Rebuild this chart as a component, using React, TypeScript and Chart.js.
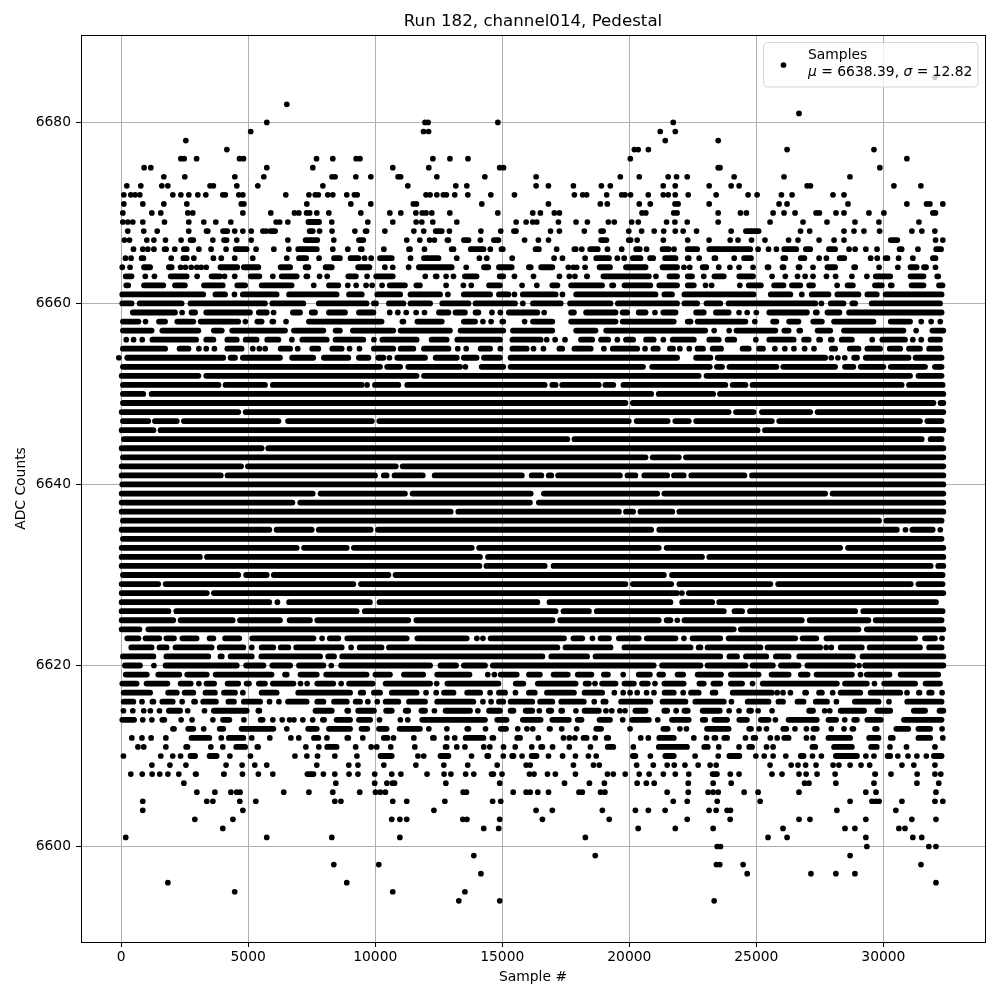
import React, { useEffect, useRef } from "react";
import { Chart, registerables } from "chart.js";

Chart.register(...registerables);

const chartTitle = "Run 182, channel014, Pedestal";
const xTitle = "Sample #";
const yTitle = "ADC Counts";
const seriesName = "Samples";
const meanValue = "6638.39";
const sigmaValue = "12.82";
const xTickValues = [0, 5000, 10000, 15000, 20000, 25000, 30000];
const yTickValues = [6600, 6620, 6640, 6660, 6680];

type Entry = number | [number, number];
type Row = [number, Entry[]];

// A number is a single sample; a pair is a stretch of samples that merge into one bar.
const upperRows: Row[] = [
  [6685, [32030]],
  [6682, [6520]],
  [6681, [26680]],
  [6680, [5733, 11960, 12080, 14825, 21730]],
  [6679, [5100, 11900, 12100, 21218, 21810]],
  [6678, [2545, 21415, 23500]],
  [6677, [4160, 20200, 20350, 20750, 26210, 29630]],
  [6676, [2350, 2480, 2970, 4658, 4815, 7690, 8330, 9250, 9400, 12270, 12940, 13650, 20040, 30925]],
  [6675, [905, 1168, 5733, 7544, 10690, 12110, 14900, 15050, 23500, 23570, 29860]],
  [6674, [1680, 2505, 4474, 5615, 8300, 8420, 9236, 9826, 10900, 11000, 12425, 14314, 16332, 19646, 20393, 21530, 21860, 22280, 24126, 26090, 28685]],
  [6673, [223, 774, 1600, 1837, 3500, 3630, 4553, 5380, 7940, 11283, 13172, 13605, 16332, 16817, 17800, 18900, 19253, 21336, 21808, 23144, 24009, 24323, 27000, 27130, 30415, 31476]],
  [6672, [105, 380, 550, 735, 2034, 2350, 2663, 3018, 3332, 4000, 4100, 4630, 4790, 6480, 7390, 7640, 7760, 8134, 8330, 8880, 9180, 9290, 12000, 12160, 12425, 12680, 12800, 13130, 13645, 14550, 15480, 17838, 18166, 18320, 19109, 19700, 19830, 20050, 20747, 21336, 21533, 21808, 22319, 23419, 24677, 25030, 25987, 26406, 28017, 28450]],
  [6671, [105, 853, 1680, 2585, 4730, 4830, 7308, 9040, 9826, 11500, 11620, 14196, 16817, 18860, 19135, 20393, 20825, 21800, 21920, 23144, 25895, 26209, 28607, 30925, 31700, 31830, 32340]],
  [6670, [66, 1207, 1560, 2624, 2820, 4790, 5890, 6822, 6993, 7300, 7420, 7700, 8174, 9433, 10575, 11007, 11600, 11850, 12000, 12228, 12936, 14825, 16200, 16500, 17050, 17250, 20500, 20650, 21750, 21880, 23498, 24375, 24610, 25660, 26090, 26524, 27350, 27480, 28135, 28450, 29432, 30021, 31950, 32050]],
  [6669, [66, 262, 459, 853, 1705, 2663, 3254, 3726, 4316, 6100, 6240, 6560, [7260, 7900], 8290, 9709, 10693, 11610, 11834, 12267, 13212, 15547, 15940, 16200, 16360, 17210, 17904, 18350, 19175, 19410, 20092, 20354, 21467, 21795, 22280, 23498, 25540, 26838, 27781, 28882, 29825, 31400]],
  [6668, [260, 890, [1310, 1540], 2660, [3250, 3520], [3900, 4290], 4470, 4790, [5010, 5250], 5580, 5710, [5770, 6170], [7310, 7650], 7810, 8300, 9200, [9510, 9770], 10380, 11520, 11910, [12270, 12730], 12920, 14160, 14940, [15350, 15650], 16900, 17250, 18230, [18780, 19080], [19870, 20092], 20485, 20980, [21245, 21467], [21700, 21926], 22120, 22646, 24009, [24480, 25200], [26640, 26840], 27100, 28450, 28843, 29235, [29786, 29917], 31122, 31515, 32026]],
  [6667, [130, 330, 1010, 1290, 1745, 2360, [2620, 2950], 3610, [3940, 4260], 4550, 5120, 6560, [7150, 7830], 8370, [9250, 9640], 11240, 11755, 12140, 12330, [12730, 12990], [13380, 13780], [14040, 14240], [14560, 14960], 15880, 16420, 16820, [18780, 19210], [19870, 20160], 20310, [21230, 21470], [22190, 22410], 23140, 23970, 24280, 24810, 25340, 26270, 26640, 27470, [27950, 28170], 28450, [30180, 30660], [31970, 32140], 32340]],
  [6666, [485, 853, 1050, 1290, [1600, 1880], 2110, [2360, 2690], 3060, 3540, 4130, [4400, 5050], 5310, 6010, 6600, [6860, 7810], 8330, 8920, [9320, 9580], 10340, [11220, 11480], 11940, [12900, 13190], [13650, 14370], [14430, 14630], [14860, 15130], [16200, 16550], 17140, [17730, 18000], 18130, [18350, 18870], [19040, 19240], 19700, [20160, 20520], 20680, [21200, 21660], 21760, [22190, 22780], [23040, 24870], 25070, 25480, 25790, [25990, 26680], [26840, 27230], [27750, 28210], 28650, 28890, 29310, 29750, [30530, 30830], 31360, [31970, 32380]]],
  [6665, [170, 390, [695, 985], 1970, [2340, 2690], 2860, [3520, 3740], 3940, 4470, 5180, 6520, [6890, 7390], [7680, 7910], [8270, 8720], [8920, 9450], 9580, 9840, [10080, 10760], 11390, [11810, 12600], 13210, 14100, 14390, 15390, 17040, 17370, 18260, [18590, 19310], 19530, 19800, [20030, 20550], [20710, 21050], [21300, 21930], [22190, 22450], 22750, [23240, 23500], 24130, [24410, 24900], [25950, 26250], [26640, 27000], 27470, 27760, [28170, 28570], 29500, 29760, [29980, 30270], 30600, 31160, [31840, 32160]]],
  [6664, [[-40, 130], 350, [790, 1250], [1770, 2100], 2340, 2530, 2760, 2980, 3150, 3350, [3800, 4680], [4720, 5510], [6170, 6760], [7150, 7480], [7940, 8400], [9220, 9880], [10300, 10460], 10690, [11220, 11410], [11610, 13120], 13580, [14170, 14560], [14760, 15480], [15940, 16230], [16420, 17080], 17600, 17800, 17930, 18260, [18720, 19350], [19760, 20750], [21200, 21990], 22150, 22380, [22780, 23140], [23410, 23630], 23960, 24320, 24870, [25330, 25590], [25920, 26180], [26550, 26810], 27230, [27690, 28210], [28740, 29000], 29830, 30570, [30960, 31420], [31490, 31790], 32050]],
  [6663, [[70, 520], [850, 1050], 1310, [1840, 2690], 2990, [3450, 4000], 4070, 4470, [4990, 5550], 5970, [6210, 7020], [7180, 7440], 7810, [8000, 8240], [8830, 9350], 9680, [9930, 10800], [11870, 12070], [12270, 12530], 12790, 13080, [13420, 14100], [14790, 15150], 15480, 16230, [17140, 17380], 17640, 17860, [18220, 18450], [18870, 20880], 21050, [21470, 21990], [22190, 22580], 22930, [23240, 23830], [24220, 24980], 25620, 26140, 26620, 26920, 27230, 27760, 28120, [28650, 28870], 29350, [29590, 30380], [30960, 31690], [32010, 32270]]],
  [6662, [[90, 390], [790, 1770], [2010, 2620], [3150, 4110], [4460, 4990], [5420, 6820], 7580, [8070, 8660], 8920, 9250, 9640, 9880, 10270, [10460, 11280], [11510, 11870], 12790, 13470, 13780, [14370, 15020], 15780, 16360, [16860, 17280], [17600, 19040], [19210, 19480], [19700, 20940], [21070, 21990], [22190, 22650], 23000, 23240, 24350, [24590, 25290], [25590, 26180], [26290, 26840], [26970, 27340], [28080, 28280], [28480, 28910], [29560, 30050], [30180, 30440], [31000, 31690], [32080, 32440]]],
  [6661, [[-65, 3340], [3600, 4200], 4460, [4680, 6230], [6500, 8590], [8860, 9580], [9970, 11090], [11280, 12660], 12860, [13380, 14630], [14760, 15350], 15480, [15700, 17210], 17370, [17800, 21140], [21270, 21790], [22060, 25000], [25460, 26450], [26680, 26900], [27070, 27950], [28080, 29130], [29260, 29850], [29980, 32400]]],
  [6660, [[-65, 520], [620, 2490], [2620, 5770], [5840, 7280], [7670, 9770], [9840, 10140], [10430, 11220], [11280, 12270], [12530, 13780], [13840, 15610], 15810, [16100, 17410], [17560, 19370], [19440, 21990], [22060, 22780], [22930, 23690], [23800, 27430], 27560, [27820, 28540], [28670, 29000], [29430, 32340]]],
  [6659, [[350, 2230], 2400, [2660, 3020], [3240, 5180], [5310, 5840], 6000, [6650, 7150], [7390, 7740], [8070, 8920], [9250, 10040], [10460, 10690], [10850, 10930], 11220, 11610, 11940, [12400, 12990], [13050, 13640], [13840, 14170], [14500, 14690], [14830, 15020], [15150, 16490], 16650, [17600, 17930], [18190, 19570], [19630, 20030], [20260, 20750], 21010, [21230, 21930], [22520, 23040], [23300, 24020], 24320, 24640, 25000, [25400, 27100], [27230, 27490], [27690, 28380], [28540, 32400]]],
  [6658, [[-40, 790], 960, [1380, 1840], [2100, 2950], [3020, 4720], 4890, [5250, 5640], [5840, 6100], 6490, [7280, 10360], [10960, 11220], [11550, 12730], [13380, 14040], 14240, 14560, [14890, 15150], 15880, [16100, 17080], [17600, 19570], [19630, 21860], [22190, 22520], [22580, 24680], 24940, [25550, 25900], [26180, 26770], [27130, 27690], [27950, 29720], [30180, 31160], 31490, 31880, 32240]],
  [6657, [[-40, 1310], [1510, 3150], [3540, 4070], [4260, 6560], [6690, 8070], [8330, 8720], [9010, 10820], [10890, 13050], [13250, 15150], [15310, 17080], [17800, 18780], [18980, 23100], 23340, 23930, [24110, 25860], [25990, 26380], [26580, 26840], [27300, 28020], [28340, 30900], 31290, [31820, 32470]]],
  [6656, [200, 490, 830, [1120, 3060], [3240, 3740], [4070, 4660], [4790, 5440], [5640, 6300], 6720, [7020, 8200], [8330, 9640], 9950, [10170, 11740], [12110, 12920], [13120, 15020], [15290, 16620], 16750, 17080, 17470, [17990, 18650], [18780, 19280], 19530, [19760, 20260], [20550, 21070], 21340, [21600, 22650], [23040, 23630], [23760, 24240], 24980, [25400, 26580], [26770, 27170], [27360, 27620], [27820, 28080], [28250, 28870], 29560, [29850, 30960], 31160, 31490, [31750, 32340]]],
  [6655, [[-40, 1840], [2190, 2760], 3060, 3350, 3670, [4070, 4850], 5180, 5440, 5670, [6170, 6760], 6950, [7410, 7870], [8200, 8790], 8990, 9380, [9840, 10820], [10890, 11610], [11810, 12990], 13250, 13580, [14040, 14630], [14830, 15020], [15290, 16070], 16230, 16620, [17140, 17470], [17730, 18590], 19000, [19240, 20420], 20620, [20840, 21230], [21490, 21830], 21990, 22360, [22580, 23010], [23170, 23720], [24350, 24810], [25000, 25370], 25730, 26120, 26480, 26900, 27270, [27860, 28210], [28570, 29130], [29260, 29980], [30140, 30770], [30900, 31550], [31690, 32340]]],
];

const denseRows: Row[] = [
  [6654, [-90, [130, 4130], [4200, 4590], [4680, 6360], [6620, 7670], [7870, 9050], [9250, 9840], [10010, 10430], 10560, [10760, 12070], [12270, 13320], [13380, 14100], [14170, 15020], [15220, 21990], [22520, 23300], [23370, 27820], 27950, 28210, 28480, [28740, 29070], [29200, 31100], [31160, 32400]]],
  [6653, [[-40, 10300], [10360, 11090], [11190, 13450], 13550, [14080, 15150], [15220, 20650], [20790, 23280], [23340, 23760], [23830, 25900], [25950, 28210], [28380, 28930], [29000, 30110], [30180, 31750], [31920, 32400]]],
  [6652, [[-90, 3150], [3240, 11740], [11810, 22840], [22930, 31160], [31270, 32400]]],
  [6651, [[-40, 3940], [4000, 5770], [5860, 9580], 9680, [9880, 11020], [11150, 16780], [16860, 17210], [17250, 18910], [18950, 19480], [19660, 23890], [23960, 24680], [24740, 30830], [30900, 32440]]],
  [6650, [[-40, 980], [1090, 20970], [21050, 23410], [23460, 32470]]],
  [6649, [[-40, 19960], [20030, 32080], [32140, 32470]]],
  [6648, [[-90, 4720], [4790, 24020], [24090, 25000], [25110, 27230], [27300, 32470]]],
  [6647, [[-40, 1180], [1220, 2300], [2360, 6300], [6460, 9980], [10050, 20090], [20180, 21620], [21700, 22450], [22520, 25720], [25790, 31550], [31620, 32400]]],
  [6646, [[-90, 1380], [1440, 25160], [25230, 32470]]],
  [6645, [[0, 17670], [17730, 31620], [31750, 32400]]],
  [6644, [[-90, 5640], [5680, 32470]]],
  [6643, [[-40, 20750], [20810, 22060], [22120, 32470]]],
  [6642, [[-90, 4830], [4880, 10920], [10970, 32470]]],
  [6641, [[-90, 4030], [4080, 10100], [10230, 10560], [10650, 11980], [12230, 15880], [16050, 16650], [16720, 17040], [17090, 19740], [19820, 20350], [20480, 21600], [21650, 22250], [22330, 24640], [24720, 32470]]],
  [6640, [[-65, 32470]]],
  [6639, [[-90, 7650], [7740, 11280], [11360, 16230], [16530, 21210], [21270, 27820], [27890, 32470]]],
  [6638, [[-90, 6850], [6940, 16200], [16330, 32470]]],
  [6637, [[-90, 13080], [13160, 19700], [19760, 20260], [20330, 21800], [21860, 32470]]],
  [6636, [[-40, 29940], [30010, 32400]]],
  [6635, [[-90, 5940], [6010, 7610], [7670, 9930], [10000, 20970], [21070, 30640], 30870, [31030, 32050], 32240]],
  [6634, [[-40, 32400]]],
  [6633, [[-90, 7020], [7090, 8990], [9050, 13910], [13980, 21270], [21360, 28410], [28500, 32470]]],
  [6632, [[-90, 3210], [3270, 14230], [14330, 22970], [23040, 32470]]],
  [6631, [[-90, 14210], [14270, 16780], [16910, 31970], [32050, 32470]]],
  [6630, [[-40, 4720], [4810, 5840], [5900, 10630], [10690, 21470], [21570, 32440]]],
  [6629, [[-90, 1570], [1640, 9250], [9330, 19960], [20030, 21760], [21860, 25660], [25750, 31190], [31270, 32440]]],
  [6628, [[-90, 3480], [3540, 21990], 22070, [22230, 32470]]],
  [6627, [[-90, 5940], 6150, [6500, 9900], [10060, 16490], [16750, 21730], [21970, 23370], [23430, 32180]]],
  [6626, [[-90, 1970], [2060, 9380], [9480, 17210], [17300, 18520], [18610, 23830], [24030, 24550], [24640, 29000], [29100, 32440]]],
  [6625, [[-90, 2160], [2230, 4500], [4570, 6360], [6520, 7540], [7610, 11410], [11510, 17090], [17170, 21270], [21360, 21730], 21890, [22060, 26900], [26990, 29520], [29590, 32400]]],
  [6624, [[-90, 830], [960, 24220], [24280, 29130], [29240, 32470]]],
];

const lowerRows: Row[] = [
  [6623, [[130, 790], [850, 1610], [1670, 2190], [2300, 3080], [3370, 3740], [3980, 4760], [5050, 7680], 7910, [8100, 8660], [8790, 11350], [11550, 13710], 14000, 14240, [14430, 17540], [17690, 18260], 18550, [18760, 19310], [19480, 20480], [20580, 21930], 22150, [22380, 23690], [23800, 26640], [26710, 27470], [27650, 31360], [31530, 32140], 32310]],
  [6622, [[290, 1310], [1400, 1900], [2030, 3670], [3770, 4920], 5140, [5420, 6100], [6170, 6690], [6780, 8790], 9050, [9280, 10360], [10430, 17280], [17380, 19370], [19700, 22520], [22620, 22910], [22970, 25270], [25330, 27620], 27750, 27950, [28210, 29260], [29350, 31550], [31690, 32400]]],
  [6621, [[-40, 1380], [1670, 3540], [3800, 4070], [4200, 5250], [5410, 7940], [8040, 8490], [8590, 16690], [16820, 18450], [18560, 23690], [23830, 24350], [24480, 25500], [25660, 26380], [26580, 28910], [29070, 32470]]],
  [6620, [[40, 850], 1290, [1640, 4660], [4810, 5710], [5840, 6760], [6890, 8070], 8270, [8550, 12270], [12460, 13290], [13380, 14430], [14520, 21070], [21180, 22910], [22970, 24680], [24740, 25760], [25860, 26770], [26900, 28930], 29040, [29170, 32470]]],
  [6619, [[70, 1120], [1350, 2400], [2490, 3480], [3610, 6030], [6340, 6630], [6950, 7810], [7960, 9770], [9900, 10690], [11020, 12000], [12330, 13820], 14430, 14690, [14830, 15680], [15940, 16590], [16910, 17690], [17860, 18620], [18890, 19270], 19760, [20260, 20920], [21070, 21440], [21790, 22230], [22580, 23720], [23890, 25200], [25490, 26380], [26640, 27130], [27260, 28870], [29000, 29200], [29240, 30350], [30570, 32270]]],
  [6618, [[-65, 720], [890, 1930], [2230, 2850], 3060, [3250, 3770], [4080, 4720], [4830, 5140], [5310, 5770], [5860, 6890], 7060, 7320, [7610, 8460], 8660, [8860, 10010], [10300, 12270], 12420, [12730, 14960], [15420, 15940], [16290, 18000], [18170, 18520], 18650, [18820, 19570], [19700, 20290], [20390, 20840], 21010, [21270, 22250], [22650, 23040], [23200, 23690], [23890, 24550], 24850, [25140, 28280], [28380, 29460], 29650, [29920, 31360], [31550, 32340]]],
  [6617, [[-10, 1250], [1740, 2300], [2390, 2950], [3210, 3800], [3940, 4590], 4790, [5420, 6230], [6860, 9120], [9320, 9640], [9840, 10300], [10540, 11740], 12000, 12400, [12600, 13190], [13510, 14240], 14520, [14760, 15220], 15520, [15940, 16390], [16650, 17930], [18130, 19040], 19410, 19760, 20030, 20310, 20680, 20970, [21280, 21860], 22120, [22320, 22840], [23170, 23500], [23960, 25720], 25820, 26050, 26340, [26810, 27070], [27360, 27690], [27930, 28080], [28210, 29200], [29390, 30770], 30930, [31290, 31530], [31690, 32010], 32310]],
  [6616, [[-10, 590], [720, 920], [1120, 1380], [1510, 2140], 2400, [2760, 3020], [3120, 3840], [4110, 4550], [4720, 5580], 5840, 6210, [6460, 7410], [7610, 8070], [8270, 8990], [9120, 9510], 9710, 10080, [10300, 11020], [11220, 12070], [12330, 13970], 14240, 14560, [14760, 15150], [15220, 16290], [16380, 17080], [17210, 18320], 18620, [18870, 19180], [19570, 20940], [21200, 22320], [22490, 23830], 24020, [24550, 25590], [25760, 26160], [26510, 26970], [27230, 27890], 28150, [28770, 29920], 30220, [30830, 32400]]],
  [6615, [90, 460, 890, 1150, 1510, [1770, 2430], 2620, 3280, [3540, 5050], [5290, 5550], [7540, 8400], [8790, 9050], [9220, 10060], [10320, 10760], [11090, 11410], [11710, 12070], 12330, [12660, 13840], 14040, [14370, 15020], [15220, 15550], [15810, 16290], 16460, [16720, 17040], [17210, 17470], 17900, [18130, 18910], 19080, 19310, 19630, 19830, [20130, 20750], [21270, 21600], [21760, 21930], [22060, 22410], [22780, 23670], 23930, 24320, [24610, 24900], 25070, 25620, [26970, 27340], 27690, 27890, [28210, 29350], [29650, 30380], [31090, 31750], [32100, 32470]]],
  [6614, [[-65, 620], 850, 1210, [1510, 1810], 2360, 2790, 3610, [3900, 4370], 4830, [5380, 5680], 5970, 6340, 6630, 6800, 7150, 7540, [7830, 8100], [8370, 9120], [9250, 9910], 10170, 10990, 11280, [11740, 14430], [14690, 15280], [15700, 16620], [16860, 17730], [17860, 18230], [18720, 19350], 19740, [20000, 20880], [21010, 21230], [21570, 22450], [22780, 23100], [23240, 23960], [24220, 24740], [25070, 25590], 25750, [26160, 27490], [27730, 28250], 28480, [28740, 29070], [29260, 30010], [30700, 32400]]],
  [6613, [[1930, 2190], [2530, 2950], 3250, [3770, 4130], [4630, 6100], 6520, [7250, 7810], [8070, 9120], [9350, 9800], [10040, 10560], [10850, 11870], 12110, 12820, [13510, 13780], 14340, [14830, 15260], 15610, 15970, 16200, [16750, 16990], 17340, 17930, [18590, 19000], 20030, [21230, 21620], 21990, 22250, [22950, 24020], [24610, 24900], 25110, 25400, [25950, 26290], 26520, 26970, [27140, 27490], 27950, 28450, [28670, 28930], [29560, 29850], [30400, 31090], [31270, 31950], 32310]],
  [6612, [420, 820, 1180, 1760, [2660, 3580], 3940, [4130, 4920], 5140, 5850, 6680, 6990, [7480, 7870], 8100, [8790, 9050], 9510, [10230, 10590], 10720, 11520, [12160, 12420], 12820, 13130, [13450, 14370], [14500, 14760], [15480, 15810], 16420, 17410, 17640, 17860, [18090, 18430], 18660, [19000, 19280], 20450, 20750, [21070, 21860], 22540, 23040, [23240, 23500], [23630, 23960], 24570, [24780, 25070], 25550, 25820, [25990, 26380], 26970, 27230, [27730, 28800], [29330, 29920], [30180, 30480], [31270, 31950], 32340]],
  [6611, [660, 890, 1760, [2450, 2720], 3530, 4000, [4420, 4990], [5250, 5500], 7270, 7780, [8000, 8590], [9120, 9350], 9840, 10060, 10610, 11560, [12660, 12920], 13210, 13530, 14270, 14510, 15050, 15510, 16160, [16420, 16690], 16980, 17640, 18470, [19040, 19480], 20160, [21050, 22380], [22840, 23200], 23520, 24320, [24610, 24940], 25400, 25660, [27100, 27430], [27950, 28870], [29410, 29850], 30260, 30910, 32030]],
  [6610, [90, 1560, 2030, 2340, [2620, 3020], [3370, 3870], 4280, 5090, 6840, 7310, 7730, 8410, 9280, [10100, 10760], 11680, 11910, [12460, 12990], 13790, [14300, 14560], 15040, [15280, 15550], 15780, [16050, 16460], 16820, [17280, 17470], 17880, 18390, 18700, [20030, 20350], 20830, [21310, 21860], 22590, 23500, [23830, 24440], 24980, 25310, 25660, 26160, [26640, 26970], 27210, 27560, [28020, 29070], 29310, 29630, [30060, 30380], 30570, 30970, 31320, 31690, [31880, 32400]]],
  [6609, [1210, 1920, 2550, 4130, 4760, 5260, 5730, 7700, 8960, 9320, 10340, 11600, 12700, 13640, 14800, 15940, 16100, [17690, 17930], 18590, 18820, 20290, [20840, 21050], 21490, 21770, [22100, 22280], 22710, 23180, 23420, 25540, 26370, 26640, 26940, 27350, 28020, 28250, 28690, 29120, 29460, 30730, 31200, 32030]],
  [6608, [380, 830, 1220, 1520, 1840, 2270, [2820, 3060], [3930, 4160], [4680, 4870], 5400, 5970, [7220, 7680], 7960, [8330, 8490], [8860, 9090], 9320, 9980, [10540, 10760], 11010, [11940, 12140], 12710, 12980, [13450, 13680], 13880, [14470, 14760], 14990, 16070, 16250, 16780, 17090, 17880, 19140, 19370, 19840, 20390, [20680, 20880], 21340, 21810, 22340, [23170, 23560], [23890, 24060], 24320, [25530, 25700], 26010, 26680, 26960, 27390, 28100, [29560, 29790], 30300, 31330, 32030, 32260]],
  [6607, [2470, 8450, 9980, 10460, 10680, 10760, 12780, 14900, 17450, 18430, 19020, 20310, 20670, 20980, 22320, 23300, 24010, 26900, 27070, 28130, 29630, 31320, 32180]],
  [6606, [2980, 3690, 4320, 4550, 4680, 6400, 7390, 8330, 9390, 10010, 10200, 10400, 13460, 13590, 15430, 15940, 16100, 16400, 16820, 18020, 18150, 18870, 19040, 21490, 22320, 23100, 23300, 23500, 24520, 25070, 26680, 29310, 29710, 32070]],
  [6605, [850, 3370, 3610, 4670, 5300, 8410, 8650, 10690, 11240, 12740, 14620, 14940, 21730, 22280, 23460, 25150, 28690, 29550, 29700, 29830, 30730, 32030, 32340]],
  [6604, [850, 4790, 12310, 16330, 16970, 18940, 20240, 20750, 21410, 23140, 23420, 23850, 23980, 28170, 30490]],
  [6603, [2900, 4400, 10650, 10970, 11240, 13450, 13610, 14900, 16580, 19210, 22280, 23970, 26680, 27110, 29310, 31120, 32070]],
  [6602, [4000, 14270, 14860, 20350, 21810, 23300, 26050, 28490, 28880, 30610, 30850]],
  [6601, [180, 5730, 8290, 10970, 18270, 25460, 26210, 29310, 31160, 31510]],
  [6600, [23460, 23590, 29350, 31790, 32070]],
  [6599, [13880, 18660, 28690]],
  [6598, [8370, 10140, 23430, 23560, 24480, 31480]],
  [6597, [14160, 24640, 27150, 28130, 28880]],
  [6596, [1840, 8880, 32070]],
  [6595, [4470, 10690, 13530]],
  [6594, [13290, 14900, 23340]],
];

const allRows: Row[] = [...upperRows, ...denseRows, ...lowerRows];
const capInset = 110;

function buildDots() {
  const out: { x: number; y: number }[] = [];
  allRows.forEach(([level, entries]) => {
    entries.forEach((e) => {
      if (typeof e === "number") out.push({ x: e, y: level });
    });
  });
  return out;
}

function buildRuns() {
  const out: { x: number; y: number }[] = [];
  allRows.forEach(([level, entries]) => {
    entries.forEach((e) => {
      if (typeof e !== "number") {
        const mid = (e[0] + e[1]) / 2;
        out.push({ x: Math.min(e[0] + capInset, mid), y: level });
        out.push({ x: Math.max(e[1] - capInset, mid), y: level });
        out.push({ x: e[1], y: NaN });
      }
    });
  });
  return out;
}

const FONT = "'DejaVu Sans'";

const framePlugin = {
  id: "frameAndLegend",
  afterDatasetsDraw(chart: any) {
    const { ctx, chartArea: a } = chart;
    ctx.save();
    // legend box
    const bx = 763.5, by = 42.5, bw = 214.5, bh = 44.5, r = 4;
    ctx.beginPath();
    ctx.roundRect(bx, by, bw, bh, r);
    ctx.fillStyle = "rgba(255,255,255,0.8)";
    ctx.fill();
    ctx.strokeStyle = "rgba(204,204,204,0.8)";
    ctx.lineWidth = 1;
    ctx.stroke();
    ctx.beginPath();
    ctx.arc(783.5, 65, 2.85, 0, Math.PI * 2);
    ctx.fillStyle = "#000";
    ctx.fill();
    ctx.textBaseline = "alphabetic";
    ctx.textAlign = "left";
    const size = "13.89px";
    ctx.font = `${size} ${FONT}`;
    ctx.fillText(seriesName, 808, 59);
    let tx = 808;
    const piece = (t: string, italic: boolean) => {
      ctx.font = `${italic ? "italic " : ""}${size} ${FONT}`;
      ctx.fillText(t, tx, 76);
      tx += ctx.measureText(t).width;
    };
    piece("μ", true);
    piece(` = ${meanValue}, `, false);
    piece("σ", true);
    piece(` = ${sigmaValue}`, false);
    // frame
    ctx.strokeStyle = "#000";
    ctx.lineWidth = 1;
    ctx.strokeRect(Math.round(a.left) + 0.5, Math.round(a.top) + 0.5, Math.round(a.width), Math.round(a.height));
    ctx.restore();
  },
};

export default function App() {
  const ref = useRef<HTMLCanvasElement>(null);
  useEffect(() => {
    const chart = new Chart(ref.current as HTMLCanvasElement, {
      type: "scatter",
      data: {
        datasets: [
          {
            label: seriesName,
            data: buildDots(),
            backgroundColor: "#000",
            borderColor: "#000",
            pointRadius: 2.85,
            pointBorderWidth: 0,
            pointHoverRadius: 2.85,
          },
          {
            label: seriesName + " (merged)",
            data: buildRuns(),
            showLine: true,
            spanGaps: false,
            borderColor: "#000",
            borderWidth: 5.8,
            borderCapStyle: "round",
            pointRadius: 0,
          },
        ],
      } as any,
      plugins: [framePlugin],
      options: {
        responsive: false,
        animation: false,
        layout: { padding: { right: 15, left: 0, top: 0, bottom: 0 } },
        events: [],
        font: { family: FONT },
        plugins: {
          legend: { display: false },
          tooltip: { enabled: false },
          title: {
            display: true,
            text: chartTitle,
            color: "#000",
            fullSize: false,
            font: { family: FONT, size: 16.67, weight: "normal", lineHeight: 1.2 },
            padding: { top: 12, bottom: 3 },
          },
        },
        scales: {
          x: {
            type: "linear",
            min: -1580,
            max: 34000,
            afterBuildTicks: (s: any) => { s.ticks = xTickValues.map((value) => ({ value })); },
            afterFit: (s: any) => { s.height = 58; },
            ticks: {
              color: "#000",
              maxRotation: 0,
              font: { family: FONT, size: 13.89 },
              padding: 2,
              callback: (v: any) => String(v),
            },
            grid: { color: "#b0b0b0", lineWidth: 1, tickColor: "#000", tickLength: 5 },
            border: { color: "#000" },
            title: { display: true, text: xTitle, color: "#000", font: { family: FONT, size: 13.89 }, padding: { top: 4, bottom: 14 } },
          },
          y: {
            type: "linear",
            min: 6589.45,
            max: 6689.66,
            afterBuildTicks: (s: any) => { s.ticks = yTickValues.map((value) => ({ value })); },
            afterFit: (s: any) => { s.width = 81; },
            ticks: {
              color: "#000",
              font: { family: FONT, size: 13.89 },
              padding: 5,
              callback: (v: any) => String(v),
            },
            grid: { color: "#b0b0b0", lineWidth: 1, tickColor: "#000", tickLength: 5 },
            border: { color: "#000" },
            title: { display: true, text: yTitle, color: "#000", font: { family: FONT, size: 13.89 }, padding: { top: 13, bottom: 4 } },
          },
        },
      } as any,
    });
    return () => chart.destroy();
  }, []);
  return (
    <canvas
      ref={ref}
      width={1000}
      height={1000}
      style={{ position: "fixed", left: 0, top: 0, width: 1000, height: 1000, display: "block", background: "#fff" }}
    />
  );
}
